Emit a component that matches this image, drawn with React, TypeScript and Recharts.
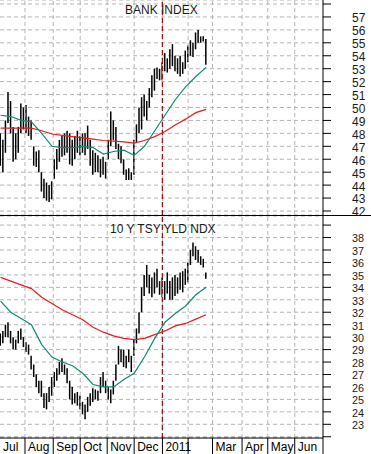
import React from 'react';
import { ComposedChart, Bar, Line, XAxis, YAxis, CartesianGrid, ReferenceLine } from 'recharts';

// trading-day index of each month start (Jul 2010 .. Jul 2011)
const monthStartDays = [0, 21, 43, 64, 85, 106, 128, 148, 167, 190, 210, 231, 253];
const monthLabels = ['Jul', 'Aug', 'Sep', 'Oct', 'Nov', 'Dec', '2011', '', 'Mar', 'Apr', 'May', 'Jun', ''];
const newYearDay = 128;
const X_MIN = 1.557;
const X_MAX = 253;

// Bars: every 2nd trading day starting at day 2
const bankHigh = [48.0, 47.5, 49.0, 51.2, 50.5, 48.5, 48.0, 48.5, 50.3, 50.0, 50.2, 49.3, 49.0, 47.0, 46.6, 46.7, 45.0, 44.5, 44.2, 44.0, 44.3, 46.0, 46.8, 47.5, 47.8, 48.0, 48.2, 48.0, 47.5, 47.8, 48.2, 47.8, 48.0, 48.0, 48.6, 47.5, 46.7, 46.5, 46.3, 46.0, 46.2, 45.8, 47.5, 49.7, 49.0, 48.5, 47.2, 47.0, 46.0, 45.2, 45.3, 45.0, 47.5, 48.7, 50.0, 50.8, 51.0, 50.5, 51.5, 52.5, 53.0, 53.1, 53.0, 53.5, 54.2, 53.8, 54.5, 54.9, 54.0, 53.8, 54.0, 53.5, 54.4, 54.8, 55.2, 55.0, 55.8, 56.0, 55.5, 55.5, 55.3];
const bankLow = [45.5, 45.0, 46.5, 48.8, 48.0, 45.8, 46.0, 46.5, 48.0, 48.3, 48.0, 47.8, 47.5, 45.5, 45.4, 45.0, 43.5, 43.0, 42.8, 42.7, 42.9, 44.5, 45.2, 45.8, 46.2, 46.3, 46.5, 45.6, 45.5, 46.0, 46.5, 46.3, 46.5, 46.3, 46.8, 45.5, 44.8, 45.0, 45.0, 44.6, 44.8, 44.5, 46.0, 47.0, 47.5, 46.8, 46.0, 45.7, 44.8, 44.4, 44.4, 44.4, 44.8, 47.3, 48.0, 48.3, 49.3, 49.0, 50.0, 50.8, 51.3, 52.2, 52.1, 52.1, 52.8, 52.7, 53.0, 53.2, 52.8, 52.6, 52.4, 52.6, 53.0, 53.5, 54.0, 53.9, 54.5, 55.0, 55.0, 55.1, 53.3];

const yldHigh = [30.3, 30.5, 31.0, 31.2, 30.5, 30.0, 29.8, 30.5, 30.7, 30.0, 29.6, 29.4, 28.5, 27.8, 27.0, 26.5, 26.5, 25.5, 25.5, 26.0, 26.8, 27.2, 27.5, 28.0, 28.3, 27.8, 27.5, 26.5, 26.0, 25.5, 25.6, 25.3, 24.8, 24.6, 25.2, 25.5, 25.9, 25.8, 25.7, 26.8, 27.2, 26.5, 26.0, 25.8, 26.5, 27.8, 29.3, 29.0, 29.0, 28.5, 29.0, 28.5, 29.8, 30.7, 32.0, 34.0, 35.0, 35.8, 35.0, 34.8, 35.2, 35.5, 34.5, 34.8, 34.5, 35.2, 34.5, 34.8, 35.0, 34.8, 35.2, 35.3, 35.5, 36.0, 37.0, 37.6, 37.3, 37.0, 36.5, 36.3, 35.2];
const yldLow = [29.3, 29.5, 30.0, 30.0, 29.5, 29.0, 29.0, 29.5, 29.8, 29.2, 28.8, 28.6, 27.4, 26.8, 26.0, 25.5, 25.2, 24.3, 24.2, 24.8, 25.3, 26.0, 26.5, 27.0, 27.2, 27.0, 26.3, 25.0, 24.6, 24.7, 24.5, 24.2, 23.8, 23.4, 24.0, 24.5, 24.8, 25.0, 24.9, 25.5, 26.0, 25.5, 25.0, 24.7, 25.4, 26.5, 27.8, 28.0, 27.6, 27.5, 28.0, 27.2, 28.5, 29.5, 30.3, 32.0, 33.3, 34.0, 33.5, 33.2, 33.5, 34.0, 33.4, 33.2, 33.0, 33.5, 33.0, 33.0, 33.3, 33.5, 33.8, 33.6, 34.2, 34.4, 35.8, 36.5, 36.2, 36.0, 35.8, 35.6, 34.7];

// Moving averages read at these trading days
const maDays = [2, 10, 18, 26, 34, 42, 50, 58, 66, 74, 82, 90, 98, 106, 114, 122, 130, 138, 146, 154, 162];
const bankMaShort = [49.4, 49.3, 49.0, 48.9, 48.0, 47.0, 46.9, 46.9, 47.0, 46.9, 46.4, 46.6, 46.7, 46.3, 47.0, 48.2, 49.4, 50.6, 51.6, 52.4, 53.1];
const bankMaLong = [48.4, 48.4, 48.4, 48.4, 48.2, 47.95, 47.85, 47.75, 47.65, 47.55, 47.45, 47.4, 47.35, 47.25, 47.45, 47.75, 48.15, 48.65, 49.1, 49.6, 49.85];
const yldMaShort = [32.9, 32.0, 31.5, 31.0, 29.4, 28.4, 28.0, 27.7, 27.1, 26.2, 26.0, 26.0, 26.6, 27.1, 28.4, 29.9, 31.2, 31.9, 32.5, 33.4, 34.0];
const yldMaLong = [34.8, 34.5, 34.2, 33.9, 33.2, 32.7, 32.2, 31.8, 31.4, 30.8, 30.4, 30.1, 29.9, 29.8, 29.9, 30.2, 30.5, 30.9, 31.1, 31.45, 31.8];

const bankTicks = [42, 43, 44, 45, 46, 47, 48, 49, 50, 51, 52, 53, 54, 55, 56, 57, 58];
const yldTicks = [22, 23, 24, 25, 26, 27, 28, 29, 30, 31, 32, 33, 34, 35, 36, 37, 38, 39];

const FONT = '"Liberation Sans", Arial, sans-serif';
const TEAL = '#108a78';
const RED = '#f01818';
const GRID = '#b4b4b4';

function buildBars(hi: number[], lo: number[]) {
  return hi.map((h, i) => ({ day: 2 + i * 2, range: [lo[i], h] }));
}
function buildMa(maS: number[], maL: number[]) {
  return maDays.map((d, i) => ({ day: d, maS: maS[i], maL: maL[i] }));
}

const bankBars = buildBars(bankHigh, bankLow);
const yldBars = buildBars(yldHigh, yldLow);
const bankMa = buildMa(bankMaShort, bankMaLong);
const yldMa = buildMa(yldMaShort, yldMaLong);

const BarShape = (p: any) => {
  const { x, y, width, height } = p;
  if (x == null || y == null) return <g />;
  const cx = x + width / 2;
  const y1 = Math.min(y, y + height);
  const y2 = Math.max(y, y + height);
  return <line x1={cx} x2={cx} y1={y1} y2={Math.max(y2, y1 + 1)} stroke="#000" strokeWidth={1.5} />;
};

const makeYTick = (minL: number, maxL: number, fs: number) => (p: any) => {
  const v = p.payload.value;
  if (v < minL || v > maxL) return <g />;
  return (
    <text x={p.x} y={p.y + fs * 0.45} fontSize={fs} fill="#1a1a1a" textAnchor="start" fontFamily={FONT}>
      {v}
    </text>
  );
};

const xTicks = [X_MIN, ...monthStartDays.slice(1)];

const XTick = (p: any) => {
  const v = p.payload.value;
  const i = xTicks.indexOf(v);
  const label = i >= 0 ? monthLabels[i] : '';
  return (
    <g>
      {i > 0 && <line x1={p.x} x2={p.x} y1={p.y} y2={p.y + 16} stroke="#000" />}
      {label && (
        <text x={p.x + 3} y={p.y + 13} fontSize={12} fill="#000" fontFamily={FONT}>
          {label}
        </text>
      )}
    </g>
  );
};

const gridDays = monthStartDays.slice(1, -1);

function Panel({ bars, ma, domain, ticks, labelMin, labelMax, labelSize, height, bottomPad, showX }: any) {
  return (
    <ComposedChart width={371} height={height} data={bars} margin={{ top: 0, right: 0, left: 0, bottom: bottomPad }}>
      <CartesianGrid vertical={false} stroke={GRID} strokeDasharray="4 3" />
      <XAxis
        dataKey="day"
        type="number"
        domain={[X_MIN, X_MAX]}
        allowDataOverflow
        hide={!showX}
        ticks={xTicks}
        interval={0}
        tickLine={false}
        tickSize={0}
        tickMargin={0}
        height={16}
        axisLine={{ stroke: '#000' }}
        tick={<XTick />}
      />
      <YAxis
        orientation="right"
        type="number"
        domain={domain}
        allowDataOverflow
        ticks={ticks}
        interval={0}
        width={48}
        tickSize={8}
        tickMargin={21}
        axisLine={{ stroke: '#000' }}
        tickLine={{ stroke: '#000' }}
        tick={makeYTick(labelMin, labelMax, labelSize)}
      />
      {gridDays.map((d) => (
        <ReferenceLine key={d} x={d} stroke={GRID} strokeDasharray="4 3" />
      ))}
      <ReferenceLine x={newYearDay} stroke="#a01414" strokeDasharray="5 3" strokeWidth={1.3} />
      <Bar dataKey="range" barSize={2} shape={<BarShape />} isAnimationActive={false} />
      <Line data={ma} dataKey="maL" type="linear" stroke={RED} strokeWidth={1.2} dot={false} activeDot={false} isAnimationActive={false} />
      <Line data={ma} dataKey="maS" type="linear" stroke={TEAL} strokeWidth={1.2} dot={false} activeDot={false} isAnimationActive={false} />
    </ComposedChart>
  );
}

export default function App() {
  return (
    <div style={{ position: 'absolute', left: 0, top: 0, width: 371, height: 454, background: '#fff', fontFamily: FONT, overflow: 'hidden' }}>
      <div style={{ position: 'absolute', left: 0, top: 0 }}>
        <Panel bars={bankBars} ma={bankMa} domain={[41.69, 58.31]} ticks={bankTicks} labelMin={42} labelMax={57} labelSize={12} height={220} bottomPad={5} showX={false} />
      </div>
      <div style={{ position: 'absolute', left: 0, top: 216 }}>
        <Panel bars={yldBars} ma={yldMa} domain={[21.9, 39.73]} ticks={yldTicks} labelMin={23} labelMax={38} labelSize={10.8} height={238} bottomPad={0} showX={true} />
      </div>
      <div style={{ position: 'absolute', left: 0, top: 215, width: 371, height: 1, background: '#000' }} />
      <div style={{ position: 'absolute', left: 125, top: 3, fontSize: 12, lineHeight: '14px', color: '#1a1a1a', whiteSpace: 'nowrap' }}>BANK INDEX</div>
      <div style={{ position: 'absolute', left: 110, top: 222, fontSize: 12, lineHeight: '14px', color: '#1a1a1a', whiteSpace: 'nowrap' }}>10 Y TSY YLD NDX</div>
    </div>
  );
}
